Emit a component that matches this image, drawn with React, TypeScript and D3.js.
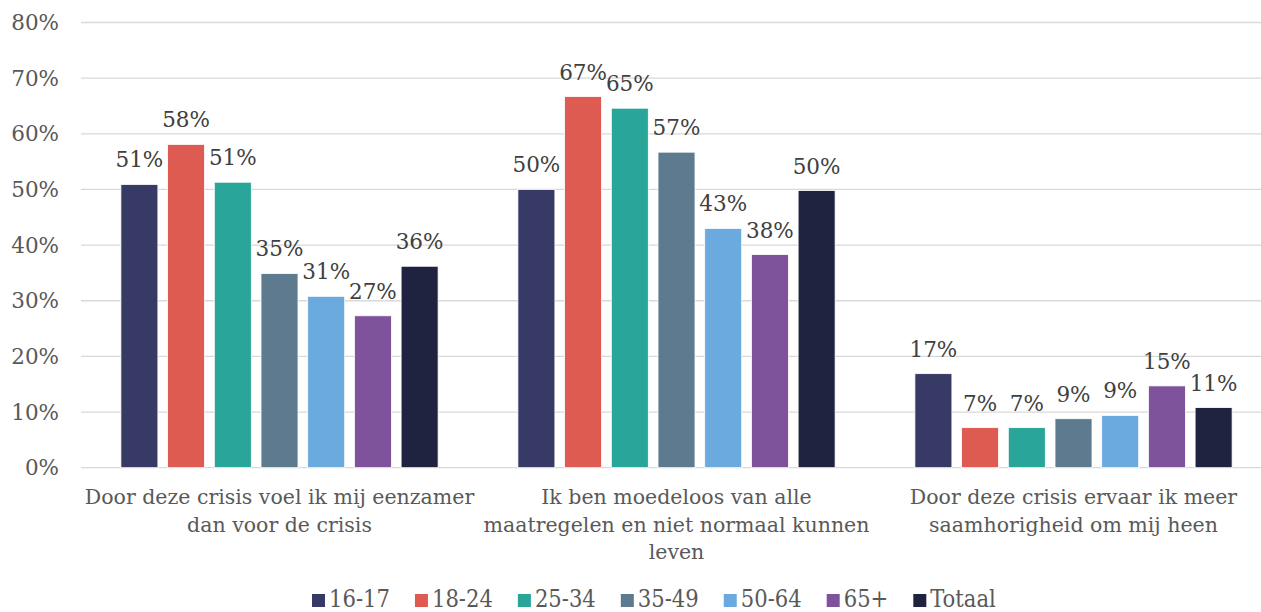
import React, { useEffect, useRef } from "react";
import * as d3 from "d3";

const categories = [
  "Door deze crisis voel ik mij eenzamer|dan voor de crisis",
  "Ik ben moedeloos van alle|maatregelen en niet normaal kunnen|leven",
  "Door deze crisis ervaar ik meer|saamhorigheid om mij heen",
];
const seriesNames = ["16-17", "18-24", "25-34", "35-49", "50-64", "65+", "Totaal"];
const seriesColors = ["#383A66", "#DE5B52", "#29A59A", "#5E7A8F", "#6BAADF", "#7F539B", "#1F2340"];
// values per series, one per category
const v1617 = [50.9, 50.0, 16.9];
const v1824 = [58.1, 66.7, 7.2];
const v2534 = [51.3, 64.6, 7.2];
const v3549 = [34.9, 56.7, 8.8];
const v5064 = [30.8, 43.0, 9.4];
const v65 = [27.3, 38.3, 14.7];
const vTot = [36.2, 49.8, 10.8];
const seriesValues = [v1617, v1824, v2534, v3549, v5064, v65, vTot];
const yTicks = [0, 10, 20, 30, 40, 50, 60, 70, 80];

const W = 1261;
const H = 612;
const FONT = "'DejaVu Serif', 'Liberation Serif', serif";
const LFONT = "'DejaVu Serif Condensed', 'DejaVu Serif', serif";

export default function App() {
  const ref = useRef<SVGSVGElement | null>(null);
  useEffect(() => {
    const svg = d3.select(ref.current);
    svg.selectAll("*").remove();
    const x0 = d3.scaleBand<number>().domain([0, 1, 2]).range([81, 1272]);
    const y = d3.scaleLinear().domain([0, 80]).range([467.7, 22.5]);
    const step = 46.7;
    const bw = 37;
    const groupW = step * 6 + bw;

    const grid = svg.append("g");
    yTicks.forEach((t) => {
      grid
        .append("line")
        .attr("x1", 81)
        .attr("x2", W)
        .attr("y1", y(t))
        .attr("y2", y(t))
        .attr("stroke", "#d9d9d9")
        .attr("stroke-width", 1.3);
      grid
        .append("text")
        .attr("x", 59)
        .attr("y", y(t) + 7.5)
        .attr("text-anchor", "end")
        .attr("font-family", FONT)
        .attr("font-size", 21.5)
        .attr("fill", "#595959")
        .text(`${t}%`);
    });

    categories.forEach((c, ci) => {
      const cx = x0(ci)! + x0.bandwidth() / 2;
      const start = cx - groupW / 2;
      seriesValues.forEach((vals, si) => {
        const v = vals[ci];
        const bx = start + si * step;
        svg
          .append("rect")
          .attr("x", bx)
          .attr("y", y(v))
          .attr("width", bw)
          .attr("height", y(0) - y(v))
          .attr("fill", seriesColors[si])
          .attr("stroke", "#ffffff")
          .attr("stroke-width", 0.8);
        svg
          .append("text")
          .attr("x", bx + bw / 2)
          .attr("y", y(v) - 17)
          .attr("text-anchor", "middle")
          .attr("font-family", FONT)
          .attr("font-size", 21.5)
          .attr("fill", "#404040")
          .text(`${Math.round(v)}%`);
      });
      const lines = c.split("|");
      lines.forEach((ln, li) => {
        svg
          .append("text")
          .attr("x", cx)
          .attr("y", 504 + li * 27.5)
          .attr("text-anchor", "middle")
          .attr("font-family", FONT)
          .attr("font-size", 20.5)
          .attr("fill", "#595959")
          .text(ln);
      });
    });

    // legend
    const lg = svg.append("g");
    let cursor = 312;
    seriesNames.forEach((n, i) => {
      const g = lg.append("g").attr("transform", `translate(${cursor},607)`);
      g.append("rect")
        .attr("x", 0)
        .attr("y", -13)
        .attr("width", 13)
        .attr("height", 13)
        .attr("fill", seriesColors[i]);
      const t = g
        .append("text")
        .attr("x", 17)
        .attr("y", 0)
        .attr("font-family", LFONT)
        .attr("font-size", 23.5)
        .attr("fill", "#595959")
        .text(n);
      const tw = (t.node() as SVGTextElement).getComputedTextLength();
      cursor += 17 + tw + 25;
    });
  }, []);
  return (
    <svg
      ref={ref}
      width={W}
      height={H}
      style={{ position: "absolute", left: 0, top: 0, background: "#fff" }}
    />
  );
}
